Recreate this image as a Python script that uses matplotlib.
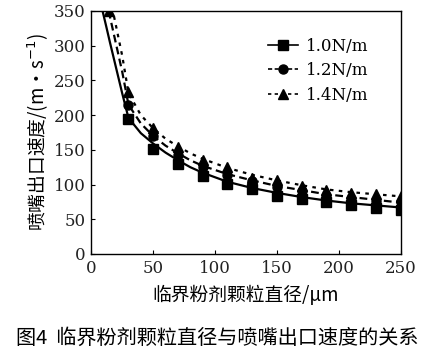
"""
Relação entre o diâmetro crítico das partículas e a velocidade de saída do bocal
"""

import matplotlib
matplotlib.use("Agg")
import matplotlib.pyplot as plt

# pontos medidos (marcadores)
x_pontos = [30, 50, 70, 90, 110, 130, 150, 170, 190, 210, 230, 250]
v_10 = [195, 151, 130, 112, 101, 93, 84, 79, 75, 70, 66, 64]
v_12 = [215, 170, 143, 125, 114, 105, 97, 91, 84, 79, 77, 75]
x_14 = [14, 30, 50, 70, 90, 110, 130, 150, 170, 190, 210, 230, 250]
v_14 = [350, 233, 182, 154, 136, 126, 110, 107, 98, 92, 88, 86, 84]

# curvas ajustadas
x_curva = [8, 10, 12, 15, 20, 25, 30, 40, 50, 60, 70, 80, 90, 110, 130, 150,
           170, 190, 210, 230, 250]
c_10 = [358, 343, 328, 305, 268, 231, 196, 174, 159, 146, 135, 125, 117, 104,
        95, 88, 82, 77, 73, 70, 67]
c_12 = [398, 382, 366, 342, 302, 262, 215, 188, 170, 156, 145, 135, 127, 115,
        106, 98, 92, 86, 82, 78, 74]
c_14 = [430, 413, 396, 370, 328, 285, 232, 200, 181, 166, 155, 145, 137, 124,
        114, 106, 99, 93, 89, 86, 83]

legendas = ["1.0N/m", "1.2N/m", "1.4N/m"]

cjk = ["Noto Sans CJK SC", "DejaVu Sans"]
serif = ["DejaVu Serif"]

fig = plt.figure(figsize=(4.35, 3.54), dpi=100)
ax = fig.add_axes([0.210, 0.2825, 0.711, 0.6865])

ax.plot(x_curva, c_10, color="black", linestyle="-", linewidth=1.6)
ax.plot(x_curva, c_12, color="black", linestyle=(0, (3.5, 2)), linewidth=1.6)
ax.plot(x_curva, c_14, color="black", linestyle=(0, (1.6, 2.4)), linewidth=1.6)

ax.plot(x_pontos, v_10, linestyle="none", marker="s", markersize=6.5, color="black")
ax.plot(x_pontos, v_12, linestyle="none", marker="o", markersize=6.5, color="black")
ax.plot(x_14, v_14, linestyle="none", marker="^", markersize=7, color="black")

# alças da legenda: linha + marcador
h1, = ax.plot([], [], color="black", linestyle="-", linewidth=1.2,
              marker="s", markersize=6.5)
h2, = ax.plot([], [], color="black", linestyle=(0, (2.5, 1.5)), linewidth=1.2,
              marker="o", markersize=6.5)
h3, = ax.plot([], [], color="black", linestyle=(0, (2, 2)), linewidth=1.2,
              marker="^", markersize=7)
ax.legend([h1, h2, h3], legendas, loc="upper left",
          bbox_to_anchor=(0.545, 0.925), frameon=False, handlelength=1.8,
          handletextpad=0.45, labelspacing=0.45, borderpad=0,
          prop={"family": serif, "size": 12})

ax.set_xlim(0, 250)
ax.set_ylim(0, 350)
ax.set_xticks([0, 50, 100, 150, 200, 250])
ax.set_yticks([0, 50, 100, 150, 200, 250, 300, 350])
ax.tick_params(direction="in", length=3, width=0.8, labelsize=12, pad=4,
               top=False, right=False)
for lab in ax.get_xticklabels() + ax.get_yticklabels():
    lab.set_family(serif)
    lab.set_color("#222222")
for sp in ax.spines.values():
    sp.set_linewidth(1.0)

ax.set_xlabel("临界粉剂颗粒直径/μm", family=cjk, fontsize=13.5, labelpad=6)
ax.set_ylabel("喷嘴出口速度/(m·s$^{-1}$)", family=cjk, fontsize=13.5, labelpad=2)

fig.text(0.5, 0.045, "图4  临界粉剂颗粒直径与喷嘴出口速度的关系",
         family=cjk, fontsize=14.5, ha="center", va="center")

fig.savefig("out.png", dpi=100)
